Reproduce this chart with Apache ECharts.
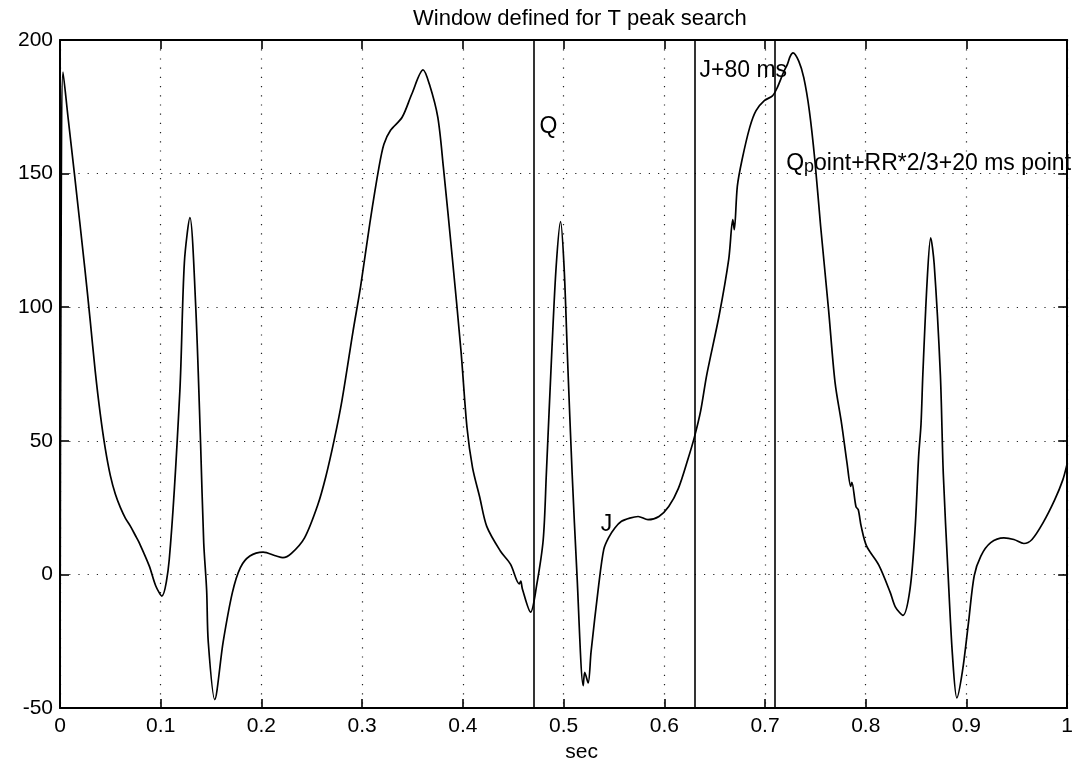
<!DOCTYPE html>
<html><head><meta charset="utf-8">
<script src="https://cdn.jsdelivr.net/npm/echarts@6/dist/echarts.min.js"></script>
<style>html,body{margin:0;padding:0;background:#fff}#c{width:1076px;height:768px}</style>
</head><body><div id="c"></div>
<script>
// ---- data ----
const titleText = 'Window defined for T peak search';
const xAxisName = 'sec';
const timeSec = [
  0.000, 0.001, 0.003, 0.008, 0.0143, 0.0248, 0.030, 0.035, 0.040, 0.045, 0.050, 0.055, 0.060, 0.065, 0.070, 0.075, 0.0785,
  0.0886, 0.095, 0.1011, 0.1085, 0.119, 0.1235, 0.129, 0.1347, 0.1396, 0.1427, 0.1456, 0.1472, 0.1536,
  0.162, 0.1712, 0.1791, 0.1885, 0.2016, 0.2148, 0.2213, 0.2298, 0.2428, 0.2559, 0.2639, 0.2721, 0.2799,
  0.2909, 0.2986, 0.3077, 0.3168, 0.3216, 0.3282, 0.3397, 0.3492, 0.3605, 0.3668, 0.3751, 0.3806, 0.3894,
  0.3982, 0.4041, 0.4096, 0.4167, 0.4237, 0.4372, 0.4474, 0.4560, 0.4575, 0.4591, 0.4673, 0.4732, 0.4798,
  0.4829, 0.4885, 0.4927, 0.4970, 0.5005, 0.5040, 0.5085, 0.5132, 0.5195, 0.5210, 0.5244, 0.5273, 0.5348,
  0.5399, 0.5446, 0.5509, 0.5575, 0.5657, 0.5740, 0.5838, 0.5947, 0.6044, 0.6140, 0.6236, 0.6299, 0.6361,
  0.6422, 0.6545, 0.6640, 0.6680, 0.6695, 0.6725, 0.6771, 0.6849, 0.6911, 0.6993, 0.7074, 0.7122, 0.7189,
  0.7222, 0.7251, 0.7278, 0.7335, 0.7385, 0.7440, 0.7495, 0.7552, 0.7630, 0.7695, 0.7761, 0.7815, 0.7851,
  0.7862, 0.7903, 0.7926, 0.7955, 0.8009, 0.8130, 0.8243, 0.8295, 0.8370, 0.8440, 0.8490, 0.8525, 0.8549,
  0.8567, 0.8610, 0.8645, 0.8680, 0.8741, 0.8770, 0.8817, 0.8861, 0.8905, 0.8960, 0.9021, 0.9077, 0.9143,
  0.9241, 0.9372, 0.9471, 0.9570, 0.9651, 0.9760, 0.9876, 0.9956, 1.000
];
const amplitude = [
  -45, 114, 188, 171, 150, 114, 95, 76, 60, 47, 37, 30, 25, 21, 18, 14.5, 12,
  3.2, -4.2, -8.1, 5.7, 68.6, 116.8, 133.5, 100.7, 48.9, 11.9, -5.9, -25.2, -46.8,
  -25.2, -6.7, 2.6, 6.9, 8.4, 6.9, 6.3, 7.9, 13.7, 26, 36.6, 50.1, 65,
  90.9, 108.1, 131.6, 152.6, 161, 166.2, 171.1, 179.7, 188.8, 183.4, 171.1, 152.6, 119,
  83.4, 55, 40, 29, 18, 8.8, 3.8, -3.5, -2.5, -5.4, -14.1, -4.2, 13.1,
  37.8, 85, 115.6, 132, 115, 80, 37.8, 0.7, -41.6, -36.6, -40.6, -28.9, -4.2,
  9.4, 13.7, 17.4, 19.9, 21.1, 21.7, 20.5, 21.7, 25.4, 32.2, 43.3, 51.4, 61.2,
  74.8, 97, 118, 132.8, 129, 145.2, 155, 167.4, 173.6, 177.3, 179.1, 182.2, 188.4,
  190.9, 194, 195.2, 192.1, 185.9, 173.6, 155, 130.4, 99.5, 72, 56.3, 41.5, 33,
  34.5, 25.4, 24.2, 18, 10.6, 3.5, -6.7, -12.2, -15.3, -5.4, 17, 44, 56.3,
  74.8, 110, 126, 116, 74.8, 37.8, 0.7, -30.1, -46.2, -36.3, -17.8, -0.5, 6.9,
  11.9, 13.7, 13.1, 11.6, 13.1, 19.3, 27.9, 35.3, 41.5
];
const windowLines = [0.466, 0.626, 0.712];
const noteTexts = ['Q', 'J', 'J+80 ms', 'Q_point+RR*2/3+20 ms point'];
const noteX = [0.476, 0.537, 0.635, 0.721];
const noteY = [167.4, 18.6, 188.4, 153.8];
const xMin = 0, xMax = 1, xStep = 0.1;
const yMin = -50, yMax = 200, yStep = 50;

// ---- chart ----
const FONT = '"Liberation Sans", Arial, Helvetica, sans-serif';
const INK = '#000';
const chart = echarts.init(document.getElementById('c'), null, {renderer: 'canvas'});
const series = timeSec.map((t, i) => [t, amplitude[i]]);
const notes = noteTexts.map((s, i) => ({value: [noteX[i], noteY[i]], name: s}));

function noteFormatter(p) {
  const s = p.name;
  const k = s.indexOf('_');
  if (k < 0) return '{n|' + s + '}';
  return '{n|' + s.slice(0, k) + '}{s|' + s.charAt(k + 1) + '}{n|' + s.slice(k + 2) + '}';
}

const gridDots = {show: true, lineStyle: {color: '#222', width: 1.2, type: [1.2, 8]}};
const tickIn = {show: true, inside: true, length: 9, lineStyle: {color: INK, width: 1.6}};
const axLine = {show: true, onZero: false, lineStyle: {color: INK, width: 2}};

chart.setOption({
  animation: false,
  backgroundColor: '#fff',
  title: {
    text: titleText, left: 413, top: 8, padding: 0,
    textStyle: {fontFamily: FONT, fontSize: 22, fontWeight: 'normal', color: INK}
  },
  grid: {left: 60, right: 4, top: 40, bottom: 50},
  xAxis: [{
    type: 'value', min: xMin, max: xMax, interval: xStep,
    name: xAxisName, nameLocation: 'middle', nameGap: 28,
    nameTextStyle: {fontFamily: FONT, fontSize: 21, color: INK, padding: [0, 0, 0, 36]},
    axisLine: axLine, axisTick: tickIn, splitLine: gridDots,
    axisLabel: {fontFamily: FONT, fontSize: 21, color: INK, margin: 8}
  }, {
    type: 'value', min: xMin, max: xMax, interval: xStep, position: 'top',
    axisLine: axLine, axisTick: tickIn, splitLine: {show: false}, axisLabel: {show: false}
  }],
  yAxis: [{
    type: 'value', min: yMin, max: yMax, interval: yStep,
    axisLine: axLine, axisTick: tickIn, splitLine: gridDots,
    axisLabel: {fontFamily: FONT, fontSize: 21, color: INK, margin: 7}
  }, {
    type: 'value', min: yMin, max: yMax, interval: yStep, position: 'right',
    axisLine: axLine, axisTick: tickIn, splitLine: {show: false}, axisLabel: {show: false}
  }],
  series: [{
    type: 'line', data: series, showSymbol: false, smooth: 0.3,
    lineStyle: {color: INK, width: 1.7}, clip: true, silent: true,
    markLine: {
      silent: true, symbol: 'none', label: {show: false},
      lineStyle: {color: INK, width: 1.6, type: 'solid'},
      data: windowLines.map(v => ({xAxis: v}))
    }
  }, {
    type: 'scatter', data: notes, symbolSize: 0, silent: true,
    itemStyle: {opacity: 1},
    label: {
      show: true, position: 'right', distance: 0, formatter: noteFormatter, color: INK, opacity: 1,
      rich: {
        n: {fontFamily: FONT, fontSize: 23, color: INK, lineHeight: 26},
        s: {fontFamily: FONT, fontSize: 18, color: INK, lineHeight: 15, verticalAlign: 'bottom'}
      }
    }
  }]
});
</script>
</body></html>
